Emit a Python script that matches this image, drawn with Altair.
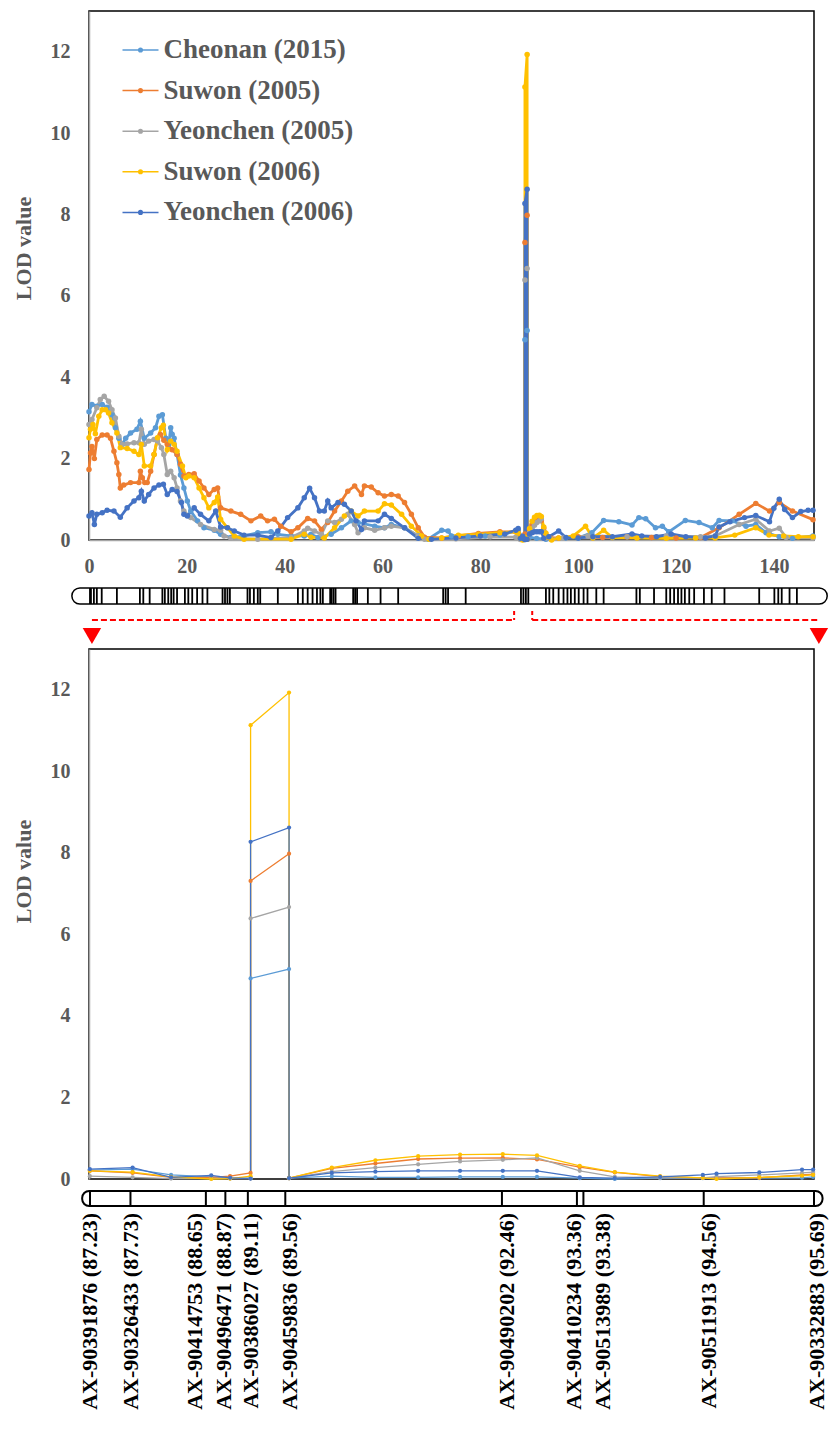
import altair as alt
import pandas as pd

# ---------------- series ----------------
SERIES = ["Cheonan (2015)", "Suwon (2005)", "Yeonchen (2005)", "Suwon (2006)", "Yeonchen (2006)"]
COLORS = ["#5B9BD5", "#ED7D31", "#A5A5A5", "#FFC000", "#4472C4"]

# ---------------- upper panel: whole linkage group, (cM, LOD) ----------------
cheonan2015 = [(0, 3.15), (0.6, 3.33), (1.6, 3.29), (2.7, 3.33), (3.7, 3.26), (4.7, 3.08), (5.4, 2.76), (6.1, 2.5),
               (6.8, 2.35), (7.5, 2.5), (8.5, 2.63), (9.8, 2.72), (10.5, 2.92), (11.3, 2.5), (12.6, 2.63), (13.6, 2.76),
               (14.3, 3.04), (15.0, 3.08), (15.7, 2.5), (16.3, 2.35), (16.7, 2.76), (17.0, 2.6), (17.4, 2.5), (18.0, 2.1),
               (18.7, 1.6), (19.4, 1.28), (20.1, 0.96), (20.8, 0.71), (22.2, 0.47), (23.5, 0.3), (25.6, 0.24), (26.9, 0.14),
               (29.0, 0.06), (31.7, 0.1), (34.5, 0.18), (37.2, 0.2), (38.6, 0.14), (41.3, 0.1), (44.0, 0.1), (45.4, 0.14),
               (46.8, 0.06), (49.5, 0.14), (51.6, 0.3), (53.6, 0.47), (55.0, 0.43), (58.4, 0.34), (60.4, 0.3), (61.8, 0.38),
               (64.5, 0.3), (67.3, 0.1), (69.3, 0.02), (72.1, 0.24), (73.4, 0.22), (74.1, 0.1), (77.5, 0.08), (81.0, 0.1),
               (84.0, 0.12), (87.23, 0.22), (87.73, 0.24), (88.65, 0.05), (89.11, 0.02), (89.11, 4.92), (89.56, 5.15),
               (89.56, 0.02), (90.06, 0.07), (91.5, 0.04), (93.4, 0.02), (97.4, 0.05), (100.0, 0.05), (102.8, 0.18),
               (105.2, 0.48), (108.3, 0.45), (111.0, 0.37), (112.4, 0.55), (113.8, 0.52), (115.8, 0.3), (117.2, 0.34),
               (118.5, 0.2), (121.9, 0.48), (124.7, 0.43), (127.4, 0.3), (128.8, 0.48), (131.5, 0.47), (134.3, 0.34),
               (136.3, 0.38), (138.4, 0.18), (141.1, 0.08), (143.8, 0.04), (148.0, 0.1)]

suwon2005 = [(0, 1.73), (0.3, 2.14), (0.6, 2.3), (1.1, 2.0), (1.6, 2.47), (2.7, 2.58), (3.7, 2.58), (4.4, 2.5), (5.1, 2.18),
             (5.7, 1.9), (6.1, 1.61), (6.4, 1.28), (7.1, 1.35), (8.5, 1.41), (10.2, 1.41), (10.5, 1.69), (10.9, 1.53),
             (11.4, 1.41), (11.9, 1.41), (12.6, 1.69), (13.3, 2.1), (14.0, 2.5), (14.6, 2.59), (15.3, 2.45), (16.0, 2.35),
             (17.0, 2.22), (18.0, 2.1), (18.7, 1.86), (19.4, 1.57), (20.4, 1.61), (21.5, 1.63), (22.5, 1.45), (23.5, 1.28),
             (24.5, 1.12), (25.6, 1.24), (26.3, 1.28), (26.9, 0.79), (29.0, 0.71), (31.0, 0.63), (33.1, 0.47), (35.1, 0.59),
             (36.5, 0.47), (37.9, 0.51), (39.2, 0.34), (41.3, 0.2), (42.7, 0.3), (44.7, 0.53), (46.1, 0.47), (47.5, 0.26),
             (48.8, 0.43), (50.2, 0.71), (51.6, 0.96), (52.9, 1.2), (54.3, 1.33), (55.7, 1.12), (56.3, 1.33), (57.7, 1.3),
             (59.1, 1.16), (60.4, 1.08), (61.8, 1.12), (63.2, 1.08), (64.5, 0.92), (65.9, 0.63), (67.3, 0.3), (68.6, 0.07),
             (72.1, 0.05), (75.5, 0.1), (79.6, 0.16), (84.0, 0.2), (87.23, 0.2), (87.73, 0.15), (88.65, 0.04), (88.87, 0.07),
             (89.11, 0.15), (89.11, 7.31), (89.56, 7.98), (89.56, 0.02), (90.06, 0.26), (90.57, 0.38), (91.07, 0.49),
             (91.56, 0.51), (92.06, 0.52), (92.46, 0.48), (92.96, 0.29), (93.37, 0.16), (94.4, 0.05), (96.0, 0.05),
             (100.0, 0.08), (105.0, 0.06), (110.0, 0.08), (115.0, 0.06), (120.0, 0.05), (125.0, 0.06), (128.8, 0.3),
             (132.9, 0.63), (136.3, 0.9), (139.1, 0.71), (141.1, 0.92), (143.8, 0.71), (148.0, 0.5)]

yeonchen2005 = [(0, 2.84), (0.6, 2.96), (1.6, 3.25), (2.3, 3.45), (3.1, 3.53), (4.0, 3.41), (4.7, 3.2), (5.4, 3.0), (6.1, 2.55),
                (6.8, 2.35), (7.8, 2.36), (9.2, 2.39), (10.2, 2.39), (10.7, 2.72), (11.3, 2.35), (12.2, 2.43), (13.3, 2.47),
                (14.0, 2.43), (14.8, 2.27), (15.3, 2.1), (16.0, 1.61), (16.7, 1.69), (17.4, 1.53), (18.0, 1.28), (18.7, 0.96),
                (19.4, 0.71), (20.8, 0.55), (22.8, 0.38), (25.6, 0.26), (26.9, 0.24), (27.6, 0.1), (29.0, 0.04), (34.5, 0.02),
                (41.3, 0.06), (44.0, 0.22), (44.7, 0.29), (46.1, 0.22), (47.5, 0.14), (48.8, 0.47), (50.2, 0.43), (51.6, 0.51),
                (52.9, 0.63), (54.3, 0.38), (55.0, 0.18), (56.3, 0.3), (58.4, 0.24), (60.4, 0.3), (61.8, 0.34), (64.5, 0.3),
                (67.3, 0.1), (68.6, 0.02), (75.0, 0.03), (82.0, 0.08), (87.23, 0.07), (87.73, 0.04), (88.18, 0.01),
                (88.65, 0.01), (89.11, 0.01), (89.11, 6.39), (89.56, 6.67), (89.56, 0.02), (90.06, 0.18), (90.57, 0.28),
                (91.07, 0.36), (91.56, 0.43), (92.06, 0.47), (92.46, 0.52), (92.96, 0.2), (93.37, 0.05), (94.4, 0.03),
                (97.0, 0.05), (102.0, 0.1), (110.0, 0.08), (118.0, 0.1), (125.0, 0.08), (128.0, 0.1), (132.9, 0.38),
                (136.3, 0.51), (139.1, 0.22), (141.1, 0.29), (142.5, 0.06), (148.0, 0.05)]

suwon2006 = [(0, 2.51), (0.3, 2.72), (0.8, 2.84), (1.3, 2.61), (2.0, 3.04), (2.7, 3.2), (3.4, 3.2), (4.0, 3.12), (4.7, 2.88),
             (5.7, 2.63), (6.4, 2.27), (7.8, 2.25), (9.2, 2.18), (10.2, 2.1), (10.7, 2.35), (11.3, 1.82), (12.6, 1.82),
             (13.3, 2.1), (14.0, 2.51), (14.8, 2.76), (15.2, 2.82), (16.0, 2.22), (16.7, 2.43), (17.4, 2.35), (18.0, 2.18),
             (19.1, 1.82), (19.8, 1.53), (20.4, 1.57), (21.5, 1.53), (22.5, 1.28), (23.5, 1.04), (24.5, 0.79), (25.6, 0.92),
             (26.3, 1.06), (26.9, 0.51), (28.3, 0.3), (29.7, 0.1), (31.7, 0.02), (41.3, 0.02), (44.0, 0.14), (45.4, 0.07),
             (48.1, 0.05), (50.2, 0.3), (52.2, 0.59), (53.6, 0.71), (55.0, 0.59), (56.3, 0.71), (59.1, 0.71), (60.4, 0.89),
             (61.8, 0.86), (63.9, 0.63), (65.9, 0.34), (68.0, 0.1), (69.5, 0.02), (72.1, 0.05), (75.5, 0.12), (79.6, 0.14),
             (84.0, 0.18), (87.23, 0.2), (87.73, 0.17), (88.18, 0.05), (88.65, 0.0), (88.87, 0.01), (89.11, 0.07),
             (89.11, 11.13), (89.56, 11.93), (89.56, 0.02), (90.06, 0.28), (90.57, 0.46), (91.07, 0.56), (91.56, 0.6),
             (92.06, 0.61), (92.46, 0.58), (92.96, 0.32), (93.37, 0.17), (93.9, 0.07), (94.56, 0.0), (96.0, 0.05),
             (99.0, 0.1), (101.5, 0.34), (103.0, 0.05), (105.2, 0.24), (107.0, 0.06), (112.0, 0.05), (118.0, 0.04),
             (124.0, 0.05), (128.0, 0.05), (132.0, 0.12), (136.3, 0.3), (139.0, 0.12), (142.0, 0.1), (145.0, 0.08),
             (148.0, 0.08)]

yeonchen2006 = [(0, 0.59), (0.6, 0.67), (1.1, 0.38), (1.6, 0.63), (2.7, 0.67), (3.7, 0.73), (5.1, 0.71), (6.4, 0.56),
                (7.8, 0.79), (9.2, 0.96), (10.2, 1.04), (10.7, 1.2), (11.3, 0.96), (12.2, 1.12), (13.3, 1.28), (14.3, 1.35),
                (15.2, 1.37), (16.0, 1.12), (17.0, 1.24), (18.0, 1.19), (18.9, 0.92), (19.4, 0.63), (20.1, 0.59),
                (21.5, 0.79), (22.8, 0.63), (24.5, 0.47), (25.9, 0.71), (26.9, 0.32), (28.3, 0.3), (29.7, 0.22),
                (31.7, 0.12), (34.5, 0.12), (37.2, 0.06), (38.6, 0.22), (40.6, 0.55), (42.7, 0.79), (44.0, 1.04),
                (45.1, 1.27), (46.1, 1.04), (47.1, 0.71), (48.1, 0.71), (48.8, 0.96), (49.5, 0.79), (50.9, 0.92),
                (52.2, 0.88), (53.6, 0.71), (54.6, 0.47), (55.7, 0.26), (56.3, 0.47), (59.1, 0.47), (60.4, 0.63),
                (61.8, 0.53), (64.5, 0.3), (67.3, 0.04), (70.0, 0.02), (75.0, 0.05), (80.0, 0.1), (85.0, 0.15),
                (87.23, 0.24), (87.73, 0.28), (88.18, 0.04), (88.65, 0.09), (88.87, 0.03), (89.11, 0.01), (89.11, 8.27),
                (89.56, 8.62), (89.56, 0.02), (90.06, 0.15), (90.57, 0.18), (91.07, 0.2), (91.56, 0.2), (92.06, 0.2),
                (92.46, 0.2), (92.96, 0.04), (94.0, 0.08), (96.0, 0.22), (97.5, 0.06), (100.0, 0.05), (103.0, 0.08),
                (107.0, 0.08), (111.0, 0.15), (113.0, 0.1), (116.0, 0.08), (119.0, 0.15), (122.0, 0.08), (126.0, 0.05),
                (128.0, 0.1), (128.8, 0.32), (131.0, 0.45), (134.0, 0.55), (136.3, 0.6), (139.1, 0.45), (140.0, 0.78),
                (141.1, 1.0), (142.2, 0.75), (143.8, 0.55), (145.5, 0.7), (147.0, 0.73), (148.0, 0.73)]

TOP_SCANS = [cheonan2015, suwon2005, yeonchen2005, suwon2006, yeonchen2006]

# marker positions on the whole linkage group (cM)
TOP_MARKERS = [0.2, 0.4, 1.0, 1.6, 2.6, 5.7, 10.4, 11.1, 12.4, 15.0, 15.5, 16.2, 16.8, 17.3, 18.0, 19.6, 20.3, 21.1,
               22.1, 23.2, 24.2, 27.3, 27.8, 28.3, 28.8, 32.4, 32.9, 33.7, 34.5, 35.0, 38.6, 42.7, 43.7, 44.7, 45.7,
               46.6, 47.3, 47.8, 49.3, 49.6, 50.0, 50.4, 54.0, 54.4, 54.8, 57.0, 59.6, 63.2, 72.4, 72.9, 73.4, 77.0,
               88.3, 88.8, 89.3, 89.8, 93.4, 94.1, 94.9, 96.0, 97.0, 97.8, 98.5, 99.3, 100.1, 101.1, 101.9, 103.7,
               105.2, 111.9, 112.6, 115.5, 118.0, 118.8, 119.6, 120.4, 121.1, 121.8, 122.7, 123.7, 125.7, 127.3,
               129.9, 137.0, 140.1, 140.9, 141.6, 143.2, 144.7]
TOP_CHR_SPAN = [(-3.5, 150.9)]
CONNECTOR = [(0.6, 86.9), (90.6, 149.2)]

# ---------------- lower panel: zoom on the QTL interval ----------------
ZOOM_CM = [87.23, 87.73, 88.18, 88.65, 88.87, 89.11, 89.11, 89.56, 89.56, 90.06, 90.57, 91.07, 91.56, 92.06,
           92.46, 92.96, 93.37, 93.9, 94.4, 94.56, 95.06, 95.56, 95.69]
zoom_cheonan2015 = [0.22, 0.24, 0.1, 0.05, 0.02, 0.02, 4.92, 5.15, 0.02, 0.07, 0.04, 0.04, 0.05, 0.05, 0.05, 0.02,
                    0.0, 0.02, 0.02, 0.02, 0.02, 0.03, 0.05]
zoom_suwon2005 = [0.2, 0.15, 0.04, 0.04, 0.07, 0.15, 7.31, 7.98, 0.02, 0.26, 0.38, 0.49, 0.51, 0.52, 0.48, 0.29,
                  0.16, 0.06, 0.03, 0.03, 0.03, 0.1, 0.12]
zoom_yeonchen2005 = [0.07, 0.04, 0.01, 0.01, 0.01, 0.01, 6.39, 6.67, 0.02, 0.18, 0.28, 0.36, 0.43, 0.47, 0.52, 0.2,
                     0.05, 0.03, 0.03, 0.06, 0.1, 0.15, 0.17]
zoom_suwon2006 = [0.2, 0.17, 0.05, 0.0, 0.01, 0.07, 11.13, 11.93, 0.02, 0.28, 0.46, 0.56, 0.6, 0.61, 0.58, 0.32,
                  0.17, 0.07, 0.03, 0.0, 0.04, 0.08, 0.1]
zoom_yeonchen2006 = [0.24, 0.28, 0.04, 0.09, 0.03, 0.01, 8.27, 8.62, 0.02, 0.15, 0.18, 0.2, 0.2, 0.2, 0.2, 0.04,
                     0.02, 0.05, 0.1, 0.13, 0.16, 0.23, 0.23]
ZOOM_SCANS = [zoom_cheonan2015, zoom_suwon2005, zoom_yeonchen2005, zoom_suwon2006, zoom_yeonchen2006]

MARKER_NAMES = ["AX-90391876", "AX-90326433", "AX-90414753", "AX-90496471", "AX-90386027", "AX-90459836",
                "AX-90490202", "AX-90410234", "AX-90513989", "AX-90511913", "AX-90332883"]
MARKER_CM = [87.23, 87.73, 88.65, 88.87, 89.11, 89.56, 92.46, 93.36, 93.38, 94.56, 95.69]
# where the figure draws each marker tick and its name (cM units of the lower axis)
MARKER_TICK_AT = [87.232, 87.705, 88.587, 88.815, 89.078, 89.516, 92.05, 92.927, 93.003, 94.41, 95.70]
MARKER_LABEL_AT = [87.226, 87.711, 88.464, 88.803, 89.113, 89.568, 92.115, 92.898, 93.237, 94.475, 95.74]
ZOOM_CHR_SPAN = [(87.14, 95.80)]

# ---------------- tables ----------------
rows, k = [], 0
for s, scan in zip(SERIES, TOP_SCANS):
    for c, v in scan:
        rows.append({"series": s, "cm": c, "lod": v, "idx": k})
        k += 1
top_df = pd.DataFrame(rows)

rows, k = [], 0
for s, vals in zip(SERIES, ZOOM_SCANS):
    for c, v in zip(ZOOM_CM, vals):
        rows.append({"series": s, "cm": c, "lod": v, "idx": k})
        k += 1
zoom_df = pd.DataFrame(rows)

tick_df = pd.DataFrame({"pos": MARKER_TICK_AT})
label_df = pd.DataFrame({
    "pos": MARKER_LABEL_AT,
    "label": [f"{n} ({c:.2f})" for n, c in zip(MARKER_NAMES, MARKER_CM)],
})

# ---------------- styling ----------------
FONT = "Liberation Serif"
TXT = "#595959"
AXGREY = "#A6A6A6"
W = 725
TOP_MAX = 148.2
ZOOM_DOM = [87.22, 95.70]
NOSTROKE = alt.ViewBackground(stroke="transparent")

color_scale = alt.Scale(domain=SERIES, range=COLORS)
LEGEND_PATH = "M-1,0H1M-0.1,0A0.1,0.1,0,1,1,0.1,0A0.1,0.1,0,1,1,-0.1,0Z"
legend = alt.Legend(orient="none", legendX=32.5, legendY=20, title=None, symbolType=LEGEND_PATH,
                    symbolSize=1296, symbolStrokeWidth=1.5, labelFont=FONT, labelFontWeight="bold",
                    labelFontSize=27, labelColor=TXT, labelOffset=4, rowPadding=8.6, labelLimit=400)


def y_lod(title_y):
    return alt.Y("lod:Q", scale=alt.Scale(domain=[0, 13], nice=False),
                 axis=alt.Axis(values=[0, 2, 4, 6, 8, 10, 12], title="LOD value", titleX=-66, titleY=title_y,
                               titleBaseline="middle", labelPadding=19))


# ---- upper chart
top_x = alt.X("cm:Q", scale=alt.Scale(domain=[0, TOP_MAX], nice=False, zero=False),
              axis=alt.Axis(values=[0, 20, 40, 60, 80, 100, 120, 140], title=None, labelPadding=16,
                            labelFlush=False))
top_lines = alt.Chart(top_df).mark_line(strokeWidth=2.8).encode(
    x=top_x, y=y_lod(237), color=alt.Color("series:N", scale=color_scale, legend=legend), order="idx:Q")
top_pts = alt.Chart(top_df).mark_circle(size=30, opacity=1).encode(
    x=top_x, y=y_lod(237), fill=alt.Fill("series:N", scale=color_scale, legend=None), order="idx:Q")
top = alt.layer(top_lines, top_pts).properties(width=W, height=529)

# ---- chromosome + connector
mx = alt.X("x:Q", scale=alt.Scale(domain=[0, TOP_MAX], nice=False, zero=False), axis=None)
chr_top = alt.Chart(pd.DataFrame(TOP_CHR_SPAN, columns=["x", "x2"])).mark_rect(
    cornerRadius=8, fill="white", stroke="black", strokeWidth=1.5).encode(
    x=mx, x2="x2:Q", y=alt.value(48), y2=alt.value(64))
chr_top_ticks = alt.Chart(pd.DataFrame({"x": TOP_MARKERS})).mark_rule(color="black", strokeWidth=1.8).encode(
    x=mx, y=alt.value(48), y2=alt.value(64))
conn = alt.Chart(pd.DataFrame(CONNECTOR, columns=["x", "x2"])).mark_rule(
    color="#FF0000", strokeWidth=2, strokeDash=[6, 3]).encode(x=mx, x2="x2:Q", y=alt.value(80))
conn_ticks = alt.Chart(pd.DataFrame({"x": [CONNECTOR[0][1], CONNECTOR[1][0]]})).mark_rule(
    color="#FF0000", strokeWidth=2, strokeDash=[4, 3]).encode(x=mx, y=alt.value(71), y2=alt.value(80))
arrows = alt.Chart(pd.DataFrame({"x": [CONNECTOR[0][0], CONNECTOR[1][1]]})).mark_point(
    shape="triangle-down", filled=True, color="#FF0000", size=340, opacity=1, strokeWidth=0).encode(
    x=mx, y=alt.value(96))
mid = alt.layer(chr_top, chr_top_ticks, conn, conn_ticks, arrows).properties(width=W, height=109, view=NOSTROKE)

# ---- lower chart
bx = alt.X("cm:Q", scale=alt.Scale(domain=ZOOM_DOM, nice=False, zero=False), axis=None)
bot_lines = alt.Chart(zoom_df).mark_line(strokeWidth=1.3).encode(
    x=bx, y=y_lod(222), color=alt.Color("series:N", scale=color_scale, legend=legend), order="idx:Q")
bot_pts = alt.Chart(zoom_df).mark_circle(size=18, opacity=1).encode(
    x=bx, y=y_lod(222), fill=alt.Fill("series:N", scale=color_scale, legend=None), order="idx:Q")
bottom = alt.layer(bot_lines, bot_pts).properties(width=W, height=530)

# ---- zoomed chromosome with marker names
sx = alt.X("x:Q", scale=alt.Scale(domain=ZOOM_DOM, nice=False, zero=False), axis=None)
px = alt.X("pos:Q", scale=alt.Scale(domain=ZOOM_DOM, nice=False, zero=False), axis=None)
chr_bot = alt.Chart(pd.DataFrame(ZOOM_CHR_SPAN, columns=["x", "x2"])).mark_rect(
    cornerRadius=7, fill="white", stroke="black", strokeWidth=2).encode(
    x=sx, x2="x2:Q", y=alt.value(12), y2=alt.value(27))
chr_bot_ticks = alt.Chart(tick_df).mark_rule(color="black", strokeWidth=2).encode(
    x=px, y=alt.value(12), y2=alt.value(27))
labels = alt.Chart(label_df).mark_text(angle=270, align="right", baseline="middle", font=FONT,
                                        fontWeight="bold", fontSize=22, color="black").encode(
    x=px, y=alt.value(34), text="label:N")
strip = alt.layer(chr_bot, chr_bot_ticks, labels).properties(width=W, height=200, view=NOSTROKE)

chart = alt.vconcat(top, mid, bottom, strip, spacing=0, bounds="flush").properties(
    padding={"left": 3, "top": 2, "right": 0, "bottom": 0}
).configure_view(stroke="black", strokeWidth=1.5).configure_axis(
    labelFont=FONT, labelFontSize=20, labelFontWeight="bold", labelColor=TXT,
    titleFont=FONT, titleFontSize=22, titleFontWeight="bold", titleColor=TXT,
    grid=False, ticks=False, tickSize=0, domainColor=AXGREY, domainWidth=1.5)

chart.save("out.html", embed_options={"renderer": "svg", "actions": False})
